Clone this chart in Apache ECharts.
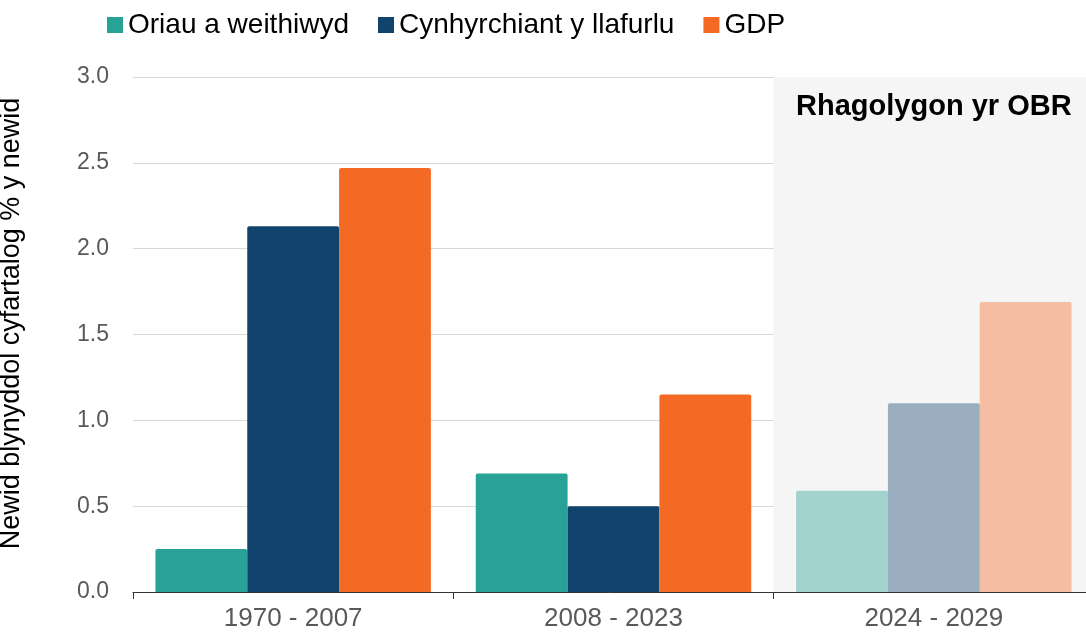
<!DOCTYPE html>
<html>
<head>
<meta charset="utf-8">
<script src="https://cdn.jsdelivr.net/npm/echarts@6/dist/echarts.min.js"></script>
<style>
  html, body { margin: 0; padding: 0; background: #fff; }
  #chart { width: 1086px; height: 635px; }
</style>
</head>
<body>
<div id="chart"></div>
<script>
// categories (last one is the OBR forecast period)
const categories = ['1970 - 2007', '2008 - 2023', '2024 - 2029'];
const forecast = [false, false, true];

// series values, % average annual change
const hoursWorked = [0.25, 0.69, 0.59];
const productivity = [2.13, 0.50, 1.10];
const gdp = [2.47, 1.15, 1.69];

const yTicks = [0, 0.5, 1.0, 1.5, 2.0, 2.5, 3.0];

const FONT = '"Liberation Sans", Arial, sans-serif';

// forecast bars are drawn faded
function toData(values) {
  return values.map((v, i) => forecast[i] ? { value: v, itemStyle: { opacity: 0.4 } } : v);
}

function barSeries(name, color, values) {
  return {
    name: name,
    type: 'bar',
    barGap: '0%',
    barCategoryGap: '14%',
    itemStyle: { color: color, borderRadius: [2, 2, 0, 0] },
    data: toData(values),
  };
}

const chart = echarts.init(document.getElementById('chart'));
chart.setOption({
  animation: false,
  textStyle: { fontFamily: FONT },
  legend: {
    left: 102,
    top: 6,
    itemWidth: 16,
    itemHeight: 16,
    itemGap: 29,
    icon: 'rect',
    textStyle: { fontSize: 28, color: '#000', fontFamily: FONT },
    data: ['Oriau a weithiwyd', 'Cynhyrchiant y llafurlu', 'GDP'],
  },
  // plot runs slightly past the right edge of the picture
  grid: { left: 133, right: -8, top: 77, bottom: 43, outerBoundsMode: 'none' },
  xAxis: [
    {
      type: 'category',
      data: categories,
      z: 3,
      axisLine: { lineStyle: { color: '#333', width: 1 } },
      axisTick: { show: true, length: 7, lineStyle: { color: '#333' } },
      axisLabel: { fontSize: 26, color: '#595959', margin: 14, fontFamily: FONT },
    },
    {
      // helper axis so the forecast shading follows the category bands
      type: 'value',
      min: 0,
      max: categories.length,
      show: false,
    },
  ],
  yAxis: {
    type: 'value',
    min: yTicks[0],
    max: yTicks[yTicks.length - 1],
    interval: 0.5,
    name: 'Newid blynyddol cyfartalog % y newid',
    nameLocation: 'middle',
    nameGap: 108,
    nameTextStyle: { fontSize: 27, color: '#000', fontFamily: FONT, padding: [0, 0, 0, 22] },
    axisLine: { show: false },
    axisTick: { show: false },
    axisLabel: {
      fontSize: 23,
      color: '#595959',
      margin: 24,
      fontFamily: FONT,
      formatter: (v) => v.toFixed(1),
    },
    splitLine: { lineStyle: { color: '#d9d9d9', width: 1 } },
  },
  series: [
    {
      name: 'forecast',
      type: 'line',
      xAxisIndex: 1,
      z: -1,
      data: [],
      markArea: {
        silent: true,
        itemStyle: { color: '#f5f5f5' },
        label: {
          show: true,
          position: 'insideTop',
          distance: 15,
          fontSize: 29,
          fontWeight: 'bold',
          color: '#000',
          fontFamily: FONT,
        },
        data: [[{ name: 'Rhagolygon yr OBR', xAxis: 2 }, { xAxis: 3 }]],
      },
    },
    barSeries('Oriau a weithiwyd', '#28A197', hoursWorked),
    barSeries('Cynhyrchiant y llafurlu', '#12436D', productivity),
    barSeries('GDP', '#F46A25', gdp),
  ],
});
</script>
</body>
</html>
